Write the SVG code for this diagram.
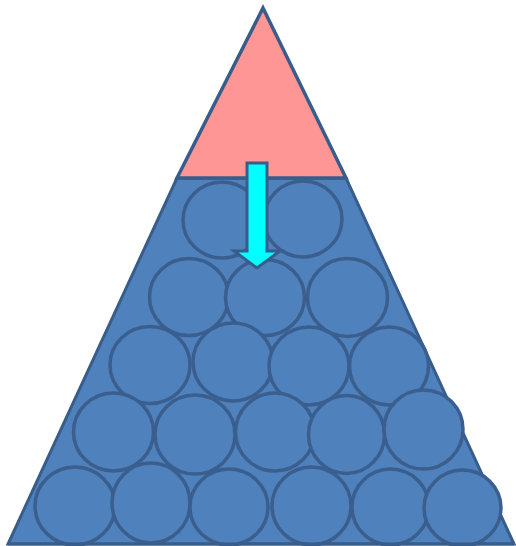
<svg xmlns="http://www.w3.org/2000/svg" width="516" height="546" viewBox="0 0 516 546">
<style>
.blue{fill:#4F81BD;stroke:#385D8A;stroke-width:3;stroke-linejoin:miter}
.c{fill:#4F81BD;stroke:#3A5F8E;stroke-width:3.5}
.pink{fill:#FF9696;stroke:#385D8A;stroke-width:3.5}
.arrow{fill:#00FFFF;stroke:#385D8A;stroke-width:3}
</style>
<rect width="516" height="546" fill="#FFFFFF"/>
<g id="base">
<polygon class="blue" points="177,178 346,178 514,544 8,544"/>
</g>
<g id="circles">
<ellipse class="c" cx="222" cy="220" rx="39" ry="38"/>
<ellipse class="c" cx="303" cy="219" rx="39" ry="38"/>
<ellipse class="c" cx="189" cy="297" rx="39.5" ry="38.5"/>
<ellipse class="c" cx="265" cy="297.5" rx="39.5" ry="38"/>
<ellipse class="c" cx="347.5" cy="297.5" rx="40" ry="39"/>
<ellipse class="c" cx="150" cy="365" rx="40" ry="38.5"/>
<ellipse class="c" cx="233" cy="362" rx="40" ry="39"/>
<ellipse class="c" cx="309" cy="366" rx="40" ry="39"/>
<ellipse class="c" cx="389" cy="366" rx="39.5" ry="39"/>
<ellipse class="c" cx="113.5" cy="432" rx="40" ry="39"/>
<ellipse class="c" cx="195" cy="434.5" rx="40" ry="39.5"/>
<ellipse class="c" cx="275" cy="432" rx="39.5" ry="39"/>
<ellipse class="c" cx="346.5" cy="434.5" rx="38" ry="39"/>
<ellipse class="c" cx="423.5" cy="429.5" rx="39.5" ry="39.5"/>
<ellipse class="c" cx="75" cy="506" rx="40" ry="39"/>
<ellipse class="c" cx="151" cy="503" rx="39" ry="40"/>
<ellipse class="c" cx="229" cy="507" rx="39" ry="38"/>
<ellipse class="c" cx="311.5" cy="506" rx="39.5" ry="39"/>
<ellipse class="c" cx="390.5" cy="507" rx="38.5" ry="38"/>
<ellipse class="c" cx="462.5" cy="508" rx="38.5" ry="38"/>
<line x1="8" y1="544" x2="514" y2="544" stroke="#385D8A" stroke-width="3"/>
</g>
<g id="top">
<polygon class="pink" points="263,8 346,178 177,178"/>
</g>
<g id="connectors">
<polygon class="arrow" points="247,163 267,163 267,251 280,251 257,268 234,251 247,251"/>
</g>
</svg>
